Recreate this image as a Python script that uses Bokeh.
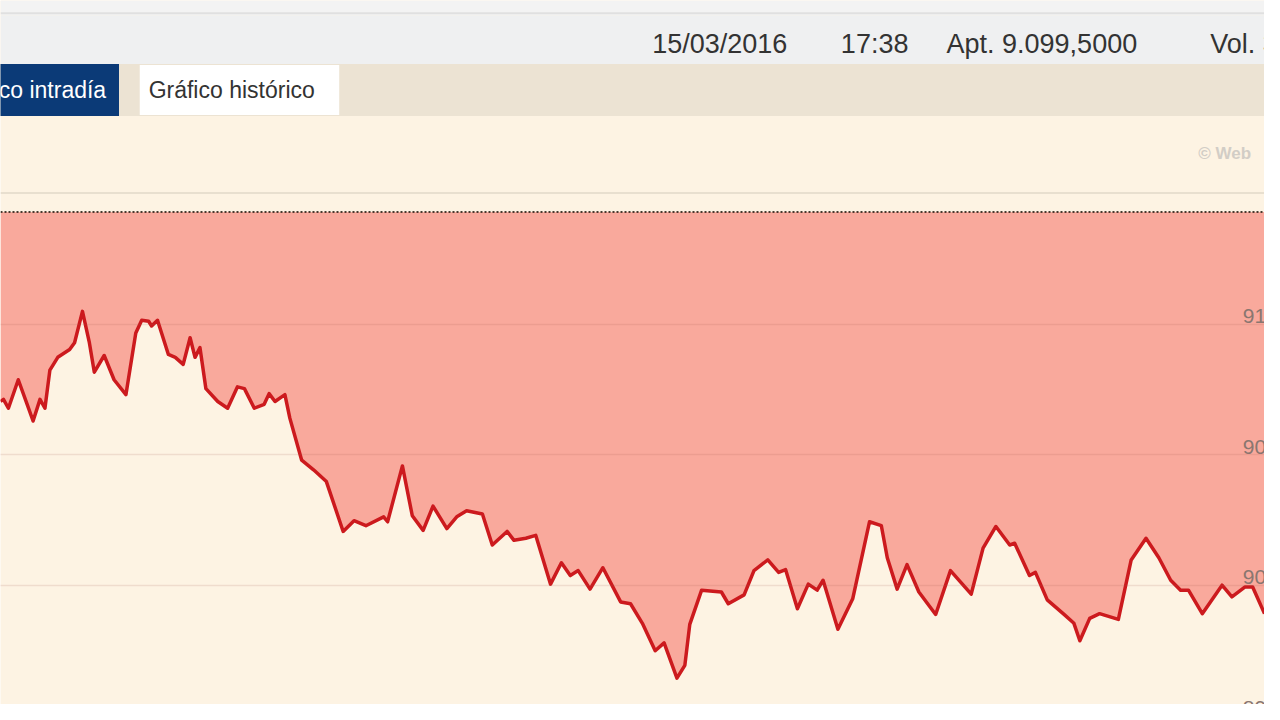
from bokeh.plotting import figure
from bokeh.models import Range1d, Span, FixedTicker
from bokeh.core.properties import value
from bokeh.embed import file_html
from bokeh.resources import INLINE

# ---- data (minutes on the visible span, index price) ----
minutes = [0, 1.2, 3.2, 7.2, 10.8, 13.2, 16, 18, 20, 23.2, 28, 30, 33.2, 36, 38, 42, 46, 50.8,
           54.8, 57.2, 60, 61.2, 63.6, 68, 70.8, 74, 76.8, 78.8, 80.8, 83.2, 88, 92, 96, 98.8,
           102.8, 106.8, 108.8, 111.2, 115.2, 117.2, 122, 126.8, 132, 138.8, 143.2, 148, 155.2,
           156.8, 162.8, 166.8, 171.2, 175.2, 180.8, 184.8, 188.8, 195.2, 199.2, 205.2, 208,
           212.8, 216.8, 222.8, 227.2, 230.8, 234, 238.8, 244, 251.2, 255.2, 260, 265.2, 268.8,
           274, 277.2, 279.2, 284, 292, 294.8, 301.2, 305.2, 310.8, 315.2, 318, 322.8, 327.2,
           330.8, 333.2, 339.2, 345.2, 352, 356.8, 359.2, 363.2, 367.2, 372, 378.8, 384.8, 393.2,
           398, 403.2, 408.8, 410.8, 416.8, 419.2, 424, 430.8, 434.8, 437.2, 441.2, 445.2, 452.8,
           458, 464, 469.2, 474, 478, 481.2, 486.8, 494.8, 498.8, 504, 507.2, 512]
prices = [9070.4, 9071.2, 9067.8, 9078.7, 9069.3, 9062.9, 9071.2, 9067.8, 9082.4, 9087.3,
          9090.3, 9092.9, 9104.9, 9092.9, 9081.6, 9088.0, 9078.7, 9073.0, 9096.6, 9101.5,
          9101.1, 9099.3, 9101.5, 9088.4, 9087.3, 9084.6, 9094.8, 9087.3, 9091.0, 9075.3,
          9070.4, 9067.8, 9076.0, 9075.3, 9067.8, 9069.3, 9073.4, 9070.4, 9073.0, 9064.0,
          9047.9, 9044.2, 9039.7, 9020.6, 9024.7, 9022.8, 9026.2, 9024.3, 9045.7, 9026.6,
          9021.0, 9030.3, 9021.7, 9026.2, 9028.5, 9027.3, 9015.4, 9020.6, 9017.2, 9018.0,
          9019.1, 9000.4, 9008.6, 9003.7, 9005.6, 8998.5, 9006.7, 8993.6, 8992.9, 8985.4,
          8974.9, 8977.9, 8964.4, 8969.3, 8985.0, 8998.1, 8997.4, 8992.9, 8996.3, 9005.6,
          9009.7, 9004.9, 9006.0, 8991.0, 9000.4, 8998.1, 9001.9, 8983.1, 8994.8, 9024.3,
          9022.8, 9010.5, 8998.5, 9007.9, 8997.4, 8988.8, 9005.6, 8996.6, 9014.2, 9022.5,
          9015.4, 9016.1, 9003.7, 9004.9, 8994.4, 8988.8, 8985.4, 8978.7, 8987.3, 8989.1,
          8986.9, 9009.7, 9018.0, 9010.5, 9001.9, 8998.1, 8998.1, 8989.1, 9000.0, 8995.5,
          8999.3, 8999.3, 8989.1]
prev_close = 9143
tick_values = [9100, 9050, 9000, 8950]
tick_labels = ["9100", "9050", "9000", "8950"]
header_texts = ["15/03/2016", "17:38", "Apt. 9.099,5000", "Vol. 3"]
tab_labels = ["Gráfico intradía", "Gráfico histórico"]
watermark = "© Web"

CREAM = "#fdf3e3"
W, H = 1264, 704

p = figure(width=W, height=H, output_backend="svg", toolbar_location=None,
           x_range=Range1d(0, 512), y_range=Range1d(8954.3, 9224.0),
           x_axis_location=None, y_axis_location=None, min_border=0,
           background_fill_color=CREAM, border_fill_color=CREAM)
p.outline_line_color = None
p.xgrid.visible = False
p.ygrid.ticker = FixedTicker(ticks=tick_values)
p.ygrid.grid_line_color = "#a06050"
p.ygrid.grid_line_alpha = 0.15
p.ygrid.grid_line_width = 1.5
p.ygrid.level = "guide"

# pixel-space ranges for the page chrome around the chart
p.extra_x_ranges = {"px": Range1d(0, 1280)}
p.extra_y_ranges = {"px": Range1d(720, 0)}

def box(l, r, t, b, color):
    p.quad(left=l, right=r, top=t, bottom=b, fill_color=color, line_color=None,
           x_range_name="px", y_range_name="px")

box(0, 1280, 0, 15, "#f3f3f3")
box(0, 1280, 15, 65, "#eff0f1")
box(0, 1280, 65, 118, "#ece3d3")
box(-20, 120, 65, 118, "#0b3a77")
box(141, 343, 66, 117, "#ffffff")
p.segment(x0=0, x1=1280, y0=13, y1=13, line_color="#e0e0e0", line_width=2,
          x_range_name="px", y_range_name="px")
p.segment(x0=0, x1=1280, y0=197, y1=197, line_color="#e8dfcf", line_width=2,
          x_range_name="px", y_range_name="px")

# header texts
p.text(x=[660, 851, 958, 1225], y=[44] * 4, text=header_texts,
       text_font=value("Liberation Sans"), text_font_size="27px", text_color="#333333",
       text_baseline="middle", text_align="left", x_range_name="px", y_range_name="px")
p.text(x=[107], y=[92], text=[tab_labels[0]], text_font=value("Liberation Sans"),
       text_font_size="23px", text_color="#ffffff", text_baseline="middle",
       text_align="right", x_range_name="px", y_range_name="px")
p.text(x=[150], y=[92], text=[tab_labels[1]], text_font=value("Liberation Sans"),
       text_font_size="23px", text_color="#333333", text_baseline="middle",
       text_align="left", x_range_name="px", y_range_name="px")
p.text(x=[1213], y=[156], text=[watermark], text_font=value("Liberation Sans"),
       text_font_size="17px", text_font_style="bold", text_color="#d2cdc6",
       text_baseline="middle", text_align="left", x_range_name="px", y_range_name="px")

# chart
p.varea(x=minutes, y1=prices, y2=[prev_close] * len(prices), fill_color="#f9a99c")
p.line(x=minutes, y=prices, line_color="#cc1a1e", line_width=3.5, line_join="round")
p.add_layout(Span(location=prev_close, dimension="width", line_color="#4a3a30",
                  line_width=2, line_dash="2 2"))

# tick labels inside the plot at the right edge
p.text(x=[1258] * len(tick_values), y=tick_values, text=tick_labels, y_offset=-8,
       text_font=value("Liberation Sans"), text_font_size="21px", text_color="#8a7670",
       text_baseline="alphabetic", text_align="left", x_range_name="px")

open("out.html", "w").write(file_html(p, INLINE))
